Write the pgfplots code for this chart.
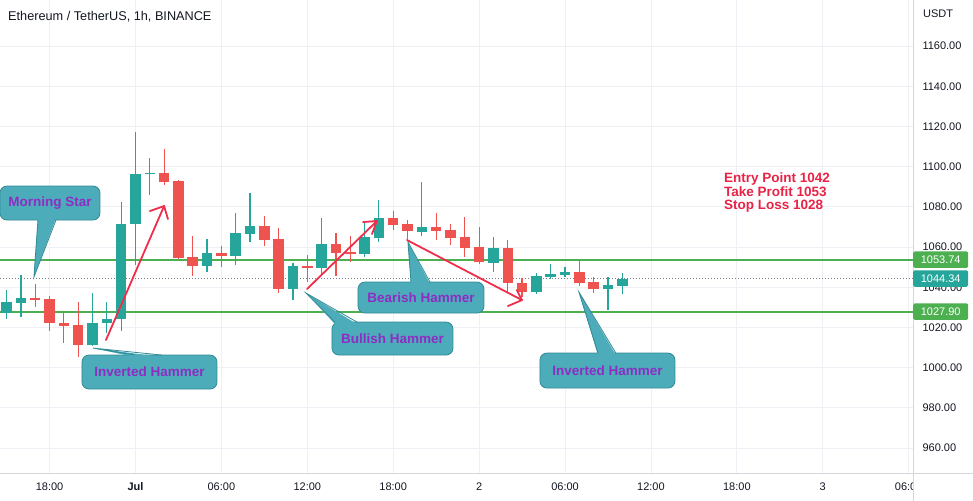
\documentclass[border=0pt]{standalone}
\usepackage{pgfplots}
\pgfplotsset{compat=1.18}
\usepackage{pgfplotstable}
\usepackage{fontspec}
\setmainfont{Liberation Sans}
\definecolor{upc}{RGB}{38,166,154}
\definecolor{dnc}{RGB}{239,83,80}
\definecolor{gridc}{RGB}{238,240,245}
\definecolor{axc}{RGB}{212,214,220}
\definecolor{lvl}{RGB}{76,175,80}
\definecolor{callfill}{RGB}{76,172,185}
\definecolor{calldraw}{RGB}{50,138,150}
\definecolor{calltext}{RGB}{142,45,196}
\definecolor{arr}{RGB}{240,45,75}
\definecolor{txt}{RGB}{19,23,34}
\definecolor{note}{RGB}{232,35,70}
\definecolor{dotc}{RGB}{120,123,134}

\pgfplotstableread{
t o hi lo c
-9 1027.0 1038.6 1024.2 1032.8
-8 1032.3 1046.1 1025.3 1034.5
-3 1011.2 1037.3 1010.8 1022.3
-2 1022.0 1032.8 1017.1 1024.2
-1 1024.1 1082.5 1018.4 1071.4
0 1071.3 1117.4 1051.0 1096.3
1 1096.2 1104.1 1085.9 1097.0
5 1050.7 1063.9 1047.7 1056.9
7 1055.5 1077.1 1051.0 1066.8
8 1066.5 1087.0 1062.6 1070.4
11 1039.1 1052.2 1033.6 1050.5
13 1049.7 1074.6 1046.0 1061.5
16 1056.5 1072.6 1055.2 1065.1
17 1064.6 1083.4 1062.6 1074.6
20 1067.6 1092.5 1065.5 1069.8
25 1052.2 1065.1 1047.7 1059.3
28 1037.8 1046.9 1036.6 1045.6
29 1045.2 1051.4 1043.9 1046.6
30 1046.3 1049.9 1045.2 1047.6
33 1039.1 1045.2 1028.7 1041.1
34 1040.8 1047.2 1036.5 1044.34
}\upcandles

\pgfplotstableread{
t o hi lo c
-7 1034.5 1041.6 1030.3 1033.6
-6 1034.1 1035.8 1018.4 1022.0
-5 1022.3 1027.8 1012.4 1020.8
-4 1021.2 1032.8 1005.4 1011.2
2 1097.0 1108.6 1090.8 1092.5
3 1092.8 1093.2 1054.0 1054.4
4 1055.2 1065.5 1045.7 1050.7
6 1056.9 1060.5 1050.2 1055.5
9 1070.4 1075.4 1060.5 1063.5
10 1064.0 1069.3 1037.0 1039.0
12 1050.7 1056.0 1042.7 1049.7
14 1061.5 1066.8 1045.6 1057.2
15 1057.4 1065.6 1052.7 1056.5
18 1074.3 1078.1 1068.5 1071.0
19 1071.4 1073.4 1063.5 1068.0
21 1069.8 1076.8 1063.5 1068.1
22 1068.5 1071.4 1061.0 1064.6
23 1065.1 1075.1 1055.2 1059.6
24 1059.8 1070.1 1051.5 1052.4
26 1059.3 1063.5 1037.3 1042.0
27 1042.0 1044.4 1035.3 1037.8
31 1047.4 1053.5 1040.8 1042.3
32 1042.4 1045.2 1037.3 1039.1
}\downcandles

\tikzset{
  callout/.style={fill=callfill, draw=calldraw, line width=0.8bp, rounded corners=7bp,
    inner sep=0pt, text=calltext, font=\fontsize{13.5bp}{15bp}\selectfont\bfseries},
  arrline/.style={draw=arr, line width=1.8bp, line cap=round, line join=round},
  tailline/.style={draw=calldraw, line width=0.8bp},
}

\begin{document}
\begin{tikzpicture}
\begin{axis}[
  scale only axis, width=913bp, height=473bp,
  xmin=-9.46, xmax=54.3, ymin=947.6, ymax=1182.9,
  axis x line*=bottom, axis y line*=right,
  axis line style={draw=axc, line width=0.8bp},
  xtick={-6,0,...,54},
  xticklabels={18:00,\textbf{Jul},06:00,12:00,18:00,2,06:00,12:00,18:00,3,06:00},
  ytick={960,980,...,1160},
  grid=major, major grid style={draw=gridc, line width=0.8bp},
  major tick length=0pt,
  tick label style={font=\fontsize{11bp}{13bp}\selectfont, text=txt},
  yticklabel style={anchor=west, xshift=6bp},
  xticklabel style={yshift=-6.5bp},
  /pgf/number format/assume math mode=true,
  yticklabel={\pgfmathprintnumber[fixed,fixed zerofill,precision=2,1000 sep={}]{\tick}},
]
% level lines
\addplot[lvl, line width=2bp] coordinates {(-9.46,1053.74) (54.3,1053.74)};
\addplot[lvl, line width=2bp] coordinates {(-9.46,1027.90) (54.3,1027.90)};
\addplot[dotc, line width=0.8bp, dash pattern=on 1bp off 2bp] coordinates {(-9.46,1044.34) (54.3,1044.34)};

% wicks
\addplot[draw=none, mark=none, error bars/.cd, y dir=plus, y explicit, error mark=none,
  error bar style={draw=upc, line width=1.2bp}]
  table[x=t, y=lo, y error plus expr={\thisrow{hi}-\thisrow{lo}}] {\upcandles};
\addplot[draw=none, mark=none, error bars/.cd, y dir=plus, y explicit, error mark=none,
  error bar style={draw=dnc, line width=1.2bp}]
  table[x=t, y=lo, y error plus expr={\thisrow{hi}-\thisrow{lo}}] {\downcandles};
% bodies
\addplot[draw=none, mark=none, error bars/.cd, y dir=plus, y explicit, error mark=none,
  error bar style={draw=upc, line width=10.5bp}]
  table[x=t, y=o, y error plus expr={\thisrow{c}-\thisrow{o}}] {\upcandles};
\addplot[draw=none, mark=none, error bars/.cd, y dir=plus, y explicit, error mark=none,
  error bar style={draw=dnc, line width=10.5bp}]
  table[x=t, y=c, y error plus expr={\thisrow{o}-\thisrow{c}}] {\downcandles};

% title and notes
\node[anchor=base west, inner sep=0pt, xshift=8bp, yshift=-20.5bp, text=txt,
  font=\fontsize{12.7bp}{15bp}\selectfont] at (rel axis cs:0,1) {Ethereum / TetherUS, 1h, BINANCE};
\node[anchor=base west, inner sep=0pt, text=note, font=\fontsize{13.5bp}{15bp}\selectfont\bfseries]
  at (axis cs:41.1,1091.99) {Entry Point 1042};
\node[anchor=base west, inner sep=0pt, text=note, font=\fontsize{13.5bp}{15bp}\selectfont\bfseries]
  at (axis cs:41.1,1085.28) {Take Profit 1053};
\node[anchor=base west, inner sep=0pt, text=note, font=\fontsize{13.5bp}{15bp}\selectfont\bfseries]
  at (axis cs:41.1,1078.80) {Stop Loss 1028};

% red arrows
\draw[arrline] (axis cs:-2.06,1013.73) -- (axis cs:2.00,1080.40);
\draw[arrline] (axis cs:1.01,1077.91) -- (axis cs:2.00,1080.40) -- (axis cs:2.27,1073.93);
\draw[arrline] (axis cs:11.98,1039.11) -- (axis cs:16.86,1072.94);
\draw[arrline] (axis cs:15.89,1072.44) -- (axis cs:16.86,1072.94) -- (axis cs:16.52,1066.47);
\draw[arrline] (axis cs:18.96,1063.48) -- (axis cs:26.99,1033.63);
\draw[arrline] (axis cs:26.01,1030.65) -- (axis cs:26.99,1033.63) -- (axis cs:26.63,1038.61);

% callouts
\node[callout, minimum width=100bp, minimum height=34bp] at (axis cs:-5.97,1081.89) {Morning Star};
\fill[callfill] (axis cs:-6.81,1074.43) -- (axis cs:-7.09,1045.08) -- (axis cs:-5.55,1074.43) -- cycle;
\draw[tailline] (axis cs:-6.81,1073.43) -- (axis cs:-7.09,1045.08) -- (axis cs:-5.55,1073.43);

\node[callout, minimum width=135bp, minimum height=34bp] at (axis cs:0.98,997.81) {Inverted Hammer};
\fill[callfill] (axis cs:-0.03,1005.27) -- (axis cs:-2.97,1009.75) -- (axis cs:1.85,1005.27) -- cycle;
\draw[tailline] (axis cs:-0.03,1006.27) -- (axis cs:-2.97,1009.75) -- (axis cs:1.85,1006.27);

\node[callout, minimum width=121bp, minimum height=33bp] at (axis cs:17.95,1014.48) {Bullish Hammer};
\fill[callfill] (axis cs:13.93,1021.69) -- (axis cs:11.91,1037.11) -- (axis cs:15.47,1021.69) -- cycle;
\draw[tailline] (axis cs:13.93,1022.69) -- (axis cs:11.91,1037.11) -- (axis cs:15.47,1022.69);

\node[callout, minimum width=126bp, minimum height=31bp] at (axis cs:19.94,1034.87) {Bearish Hammer};
\fill[callfill] (axis cs:19.24,1041.59) -- (axis cs:19.03,1062.49) -- (axis cs:20.57,1041.59) -- cycle;
\draw[tailline] (axis cs:19.24,1042.59) -- (axis cs:19.03,1062.49) -- (axis cs:20.57,1042.59);

\node[callout, minimum width=135bp, minimum height=35bp] at (axis cs:32.96,998.55) {Inverted Hammer};
\fill[callfill] (axis cs:32.30,1006.26) -- (axis cs:30.97,1037.61) -- (axis cs:33.55,1006.26) -- cycle;
\draw[tailline] (axis cs:32.30,1007.26) -- (axis cs:30.97,1037.61) -- (axis cs:33.55,1007.26);

\coordinate (TR) at (rel axis cs:1,1);
\coordinate (B1) at (axis cs:54.3,1053.74);
\coordinate (B2) at (axis cs:54.3,1044.34);
\coordinate (B3) at (axis cs:54.3,1027.90);
\end{axis}
% hide the part of the last time label behind the price scale
\fill[white] (913.4bp,-28bp) rectangle (973bp,-0.4bp);
\draw[axc, line width=0.8bp] (913bp,-28bp) -- (913bp,473bp);
\draw[axc, line width=0.8bp] (0,0) -- (973bp,0);
\node[anchor=base west, inner sep=0pt, xshift=10bp, yshift=-18bp, text=txt,
  font=\fontsize{11bp}{13bp}\selectfont] at (TR) {USDT};
\node[fill=lvl, text=white, anchor=west, minimum width=55bp, minimum height=16.5bp, inner sep=0pt,
  rounded corners=1.5bp, font=\fontsize{11bp}{13bp}\selectfont] at (B1) {1053.74};
\node[fill=upc, text=white, anchor=west, minimum width=55bp, minimum height=16.5bp, inner sep=0pt,
  rounded corners=1.5bp, font=\fontsize{11bp}{13bp}\selectfont] at (B2) {1044.34};
\node[fill=lvl, text=white, anchor=west, minimum width=55bp, minimum height=16.5bp, inner sep=0pt,
  rounded corners=1.5bp, font=\fontsize{11bp}{13bp}\selectfont] at (B3) {1027.90};
\pgfresetboundingbox
\path[use as bounding box] (0,-28bp) rectangle (973bp,473bp);
\end{tikzpicture}
\end{document}
